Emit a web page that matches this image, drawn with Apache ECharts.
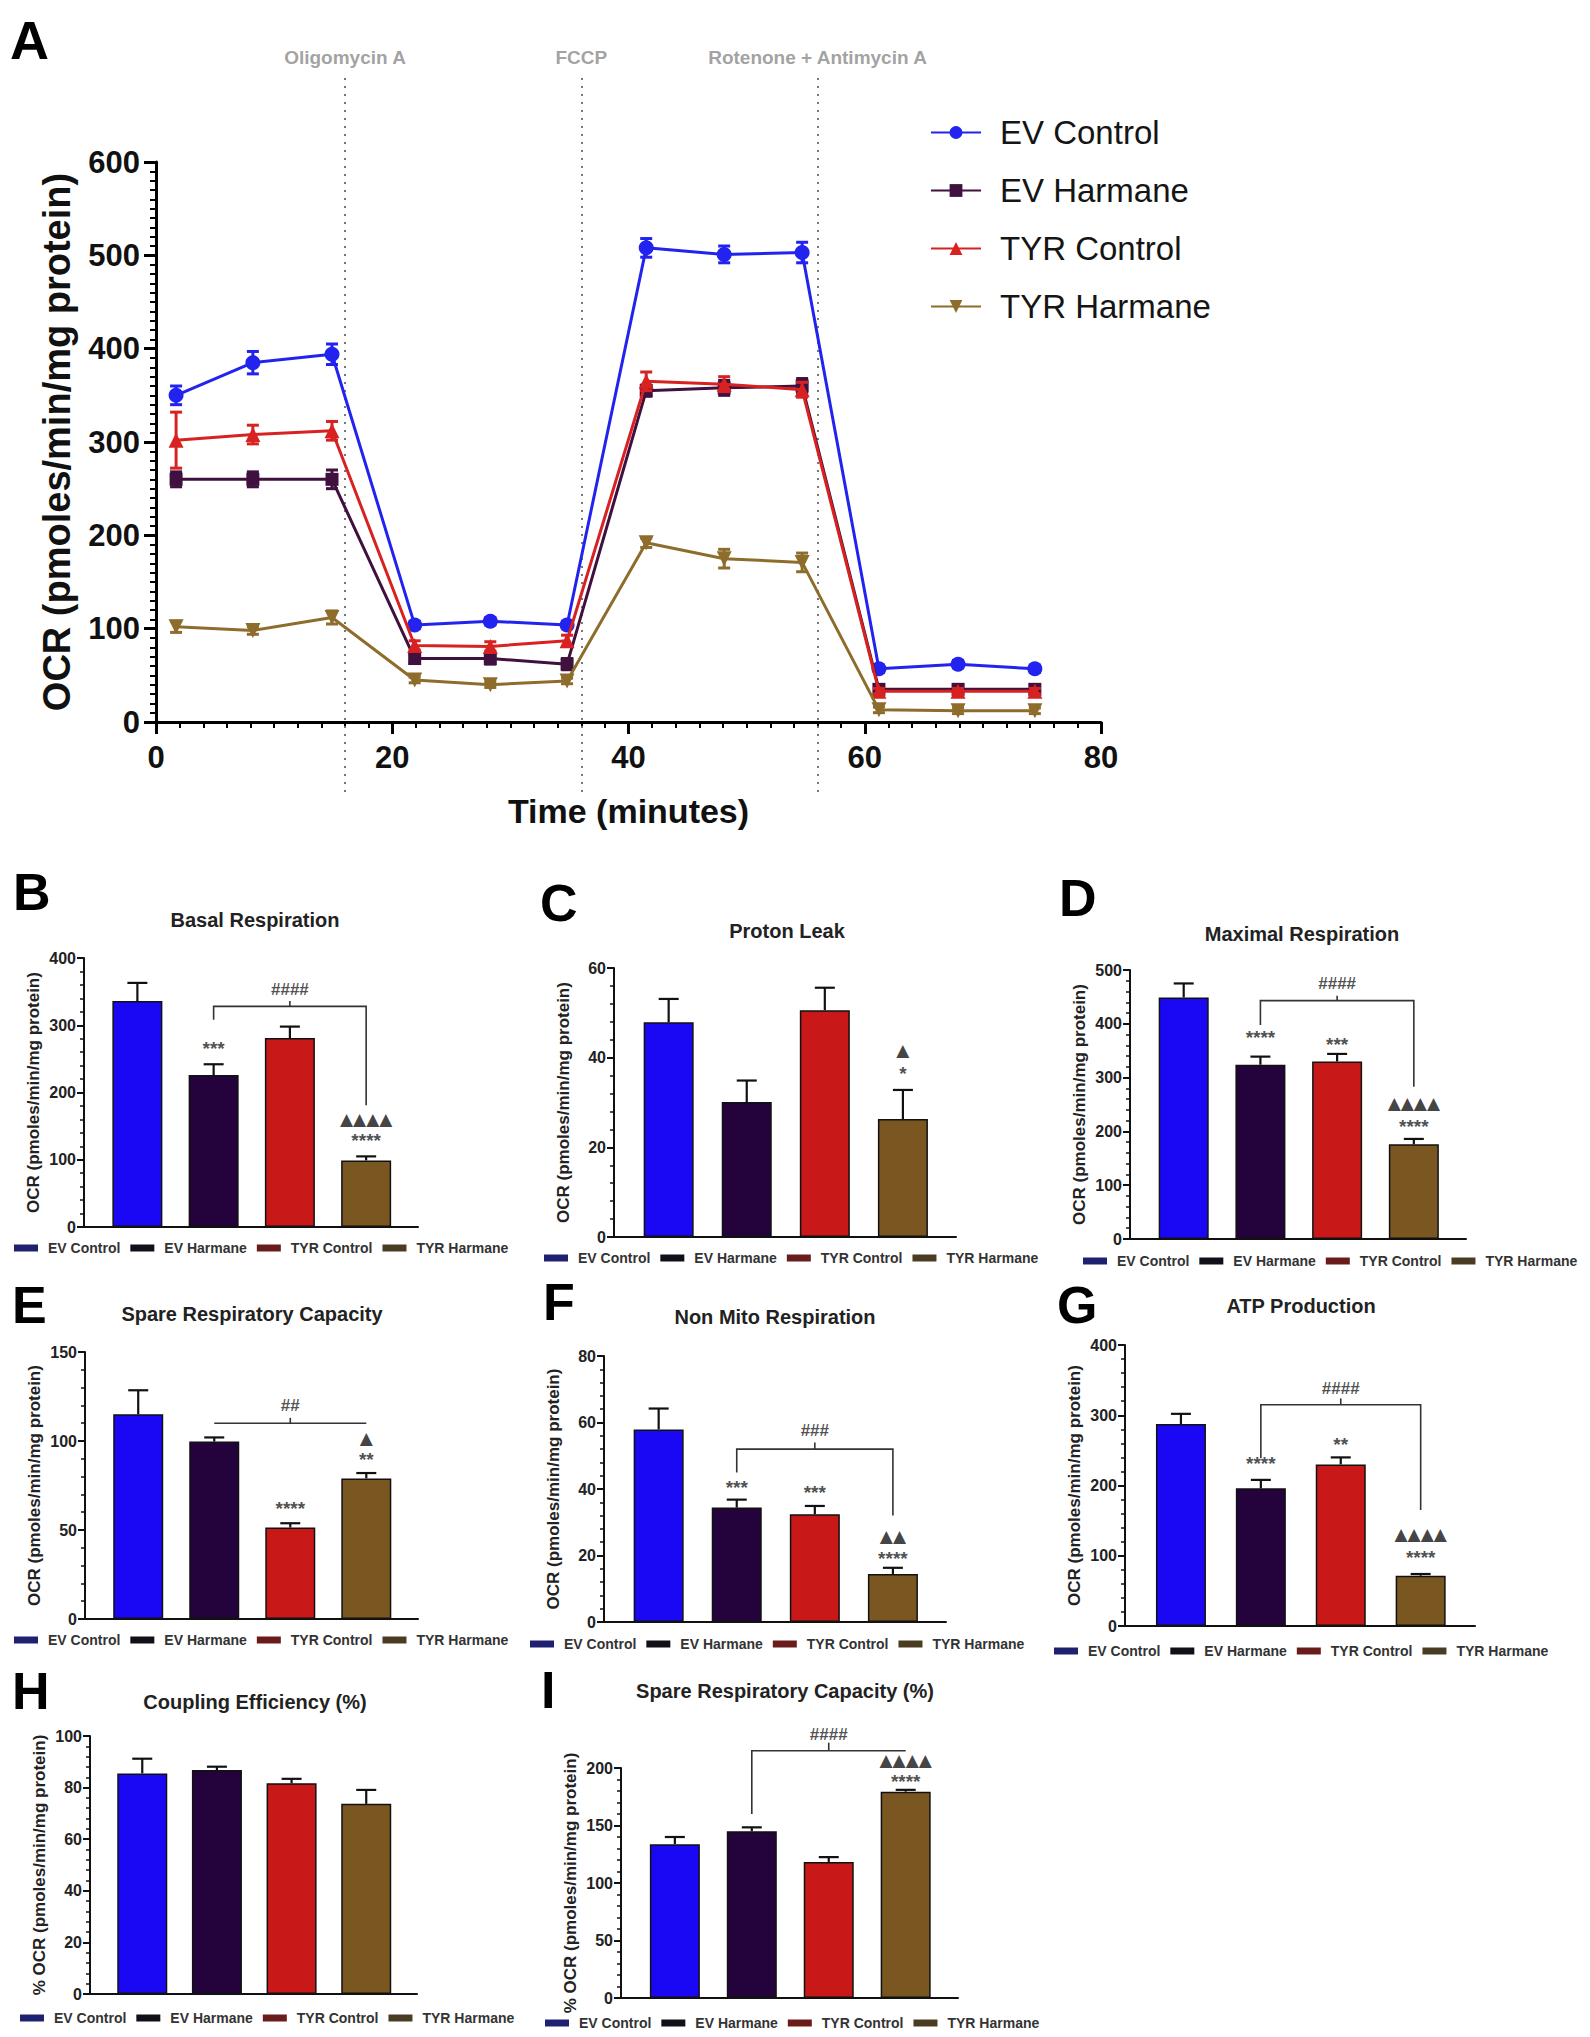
<!DOCTYPE html>
<html>
<head>
<meta charset="utf-8">
<script src="https://cdn.jsdelivr.net/npm/echarts@6/dist/echarts.min.js"></script>
<style>
html,body{margin:0;padding:0;background:#ffffff;}
#chart{width:1590px;height:2037px;}
</style>
</head>
<body>
<div id="chart"></div>
<script>
// ---------------- DATA ----------------
const categories = ['EV Control', 'EV Harmane', 'TYR Control', 'TYR Harmane'];

// Panel A: OCR time course
const timeMinutes = [1.7, 8.2, 14.9, 21.9, 28.3, 34.8, 41.5, 48.1, 54.7, 61.2, 67.9, 74.4];
const evControlOCR = [350, 385, 394, 104, 108, 104, 508, 501, 503, 57, 62, 57];
const evControlErr = [10, 12, 11, 4, 4, 4, 10, 9, 11, 4, 4, 4];
const evHarmaneOCR = [260, 260, 260, 68, 68, 62, 355, 358, 360, 35, 35, 35];
const evHarmaneErr = [8, 8, 10, 5, 6, 6, 6, 8, 8, 5, 5, 5];
const tyrControlOCR = [302, 308, 312, 82, 81, 87, 365, 362, 356, 33, 33, 33];
const tyrControlErr = [30, 10, 10, 5, 5, 6, 10, 8, 8, 3, 3, 3];
const tyrHarmaneOCR = [102, 98, 112, 45, 40, 44, 192, 175, 171, 13, 12, 12];
const tyrHarmaneErr = [6, 4, 7, 3, 3, 3, 5, 10, 10, 3, 3, 3];
const injectionTimes = [16, 36, 56];
const injectionNames = ['Oligomycin A', 'FCCP', 'Rotenone + Antimycin A'];
const xTicksA = [0, 20, 40, 60, 80];
const yTicksA = [0, 100, 200, 300, 400, 500, 600];

// Bar panels: means and SEM (upper)
const basalMean = [336, 226, 281, 99];
const basalErr = [27, 16, 17, 6];
const protonMean = [47.9, 30.1, 50.6, 26.3];
const protonErr = [5.2, 4.8, 5.0, 6.5];
const maximalMean = [449, 324, 330, 176];
const maximalErr = [26, 15, 14, 10];
const spareMean = [115, 99.7, 51.4, 79];
const spareErr = [13.5, 2.3, 2.4, 3];
const nonMitoMean = [57.9, 34.4, 32.4, 14.4];
const nonMitoErr = [6.3, 2.4, 2.5, 1.9];
const atpMean = [287.5, 196, 230, 71.6];
const atpErr = [14.5, 12, 10, 2.4];
const couplingMean = [85.5, 86.8, 81.7, 73.7];
const couplingErr = [5.7, 1.3, 1.7, 5.4];
const sparePctMean = [133.8, 145, 118.3, 179.4];
const sparePctErr = [6.2, 3.4, 4.2, 1.6];

// Significance annotations [category index, value, text]
const basalMarks = [[1, 266, '***'], [2, 353, '####'], [3, 161, '▲▲▲▲'], [3, 129, '****']];
const basalBracket = [[[1, 308], [1, 328], [3, 328], [3, 181]], [[2, 328], [2, 336]]];
const protonMarks = [[3, 41.6, '▲'], [3, 36.4, '*']];
const protonBracket = [];
const maximalMarks = [[1, 374, '****'], [2, 362, '***'], [2, 475, '####'], [3, 253, '▲▲▲▲'], [3, 209, '****']];
const maximalBracket = [[[1, 398], [1, 443], [3, 443], [3, 283]], [[2, 443], [2, 452]]];
const spareMarks = [[2, 62, '****'], [3, 89.5, '**'], [3, 101.5, '▲'], [2, 120, '##']];
const spareBracket = [[[1, 110], [3, 110]], [[2, 110], [2, 113]]];
const nonMitoMarks = [[1, 40.6, '***'], [2, 38.9, '***'], [2, 57.7, '###'], [3, 26, '▲▲'], [3, 19, '****']];
const nonMitoBracket = [[[1, 45], [1, 52], [3, 52], [3, 32]], [[2, 52], [2, 54]]];
const atpMarks = [[1, 231, '****'], [2, 259, '**'], [2, 338, '####'], [3, 131, '▲▲▲▲'], [3, 97, '****']];
const atpBracket = [[[1, 239], [1, 315], [3, 315], [3, 165]], [[2, 315], [2, 324]]];
const couplingMarks = [];
const couplingBracket = [];
const sparePctMarks = [[2, 229, '####'], [3, 207, '▲▲▲▲'], [3, 188, '****']];
const sparePctBracket = [[[1, 160], [1, 215], [3, 215]], [[2, 215], [2, 222]]];

// ---------------- STYLE / LAYOUT ----------------
const FONT = '"Liberation Sans", Arial, Helvetica, sans-serif';
const lineColors = ['#2323f0', '#40103f', '#d82222', '#8d6c2c'];
const barColors = ['#1a08f5', '#24023c', '#c91818', '#7a5620'];
const legendIconColors = ['#202070', '#101018', '#6a1c1c', '#4a3c22'];
const lineSymbols = ['circle', 'rect', 'triangle', 'triangle'];
const lineSymbolRotate = [0, 0, 0, 180];

const panels = [
  {letter: 'B', title: 'Basal Respiration', yName: 'OCR (pmoles/min/mg protein)', mean: basalMean, err: basalErr, marks: basalMarks, bracket: basalBracket, max: 400, interval: 100,
   g: {left: 84, width: 334, top: 958, height: 269}, L: [13, 892], T: [255, 920], leg: [14, 1241]},
  {letter: 'C', title: 'Proton Leak', yName: 'OCR (pmoles/min/mg protein)', mean: protonMean, err: protonErr, marks: protonMarks, bracket: protonBracket, max: 60, interval: 20,
   g: {left: 614, width: 342, top: 968, height: 269}, L: [540, 903], T: [787, 931], leg: [544, 1251]},
  {letter: 'D', title: 'Maximal Respiration', yName: 'OCR (pmoles/min/mg protein)', mean: maximalMean, err: maximalErr, marks: maximalMarks, bracket: maximalBracket, max: 500, interval: 100,
   g: {left: 1130, width: 336, top: 970, height: 269}, L: [1059, 898], T: [1302, 934], leg: [1083, 1254]},
  {letter: 'E', title: 'Spare Respiratory Capacity', yName: 'OCR (pmoles/min/mg protein)', mean: spareMean, err: spareErr, marks: spareMarks, bracket: spareBracket, max: 150, interval: 50,
   g: {left: 85, width: 333, top: 1352, height: 267}, L: [12, 1305], T: [252, 1314], leg: [14, 1633]},
  {letter: 'F', title: 'Non Mito Respiration', yName: 'OCR (pmoles/min/mg protein)', mean: nonMitoMean, err: nonMitoErr, marks: nonMitoMarks, bracket: nonMitoBracket, max: 80, interval: 20,
   g: {left: 604, width: 342, top: 1356, height: 266}, L: [543, 1302], T: [775, 1317], leg: [530, 1637]},
  {letter: 'G', title: 'ATP Production', yName: 'OCR (pmoles/min/mg protein)', mean: atpMean, err: atpErr, marks: atpMarks, bracket: atpBracket, max: 400, interval: 100,
   g: {left: 1125, width: 350, top: 1345, height: 281}, L: [1057, 1305], T: [1301, 1306], leg: [1054, 1644]},
  {letter: 'H', title: 'Coupling Efficiency (%)', yName: '% OCR (pmoles/min/mg protein)', mean: couplingMean, err: couplingErr, marks: couplingMarks, bracket: couplingBracket, max: 100, interval: 20,
   g: {left: 90, width: 327, top: 1736, height: 258}, L: [12, 1691], T: [255, 1702], leg: [20, 2011]},
  {letter: 'I', title: 'Spare Respiratory Capacity (%)', yName: '% OCR (pmoles/min/mg protein)', mean: sparePctMean, err: sparePctErr, marks: sparePctMarks, bracket: sparePctBracket, max: 200, interval: 50,
   g: {left: 621, width: 337, top: 1768, height: 230}, L: [541, 1690], T: [785, 1691], leg: [545, 2016]}
];

// ---------------- BUILD OPTION ----------------
const grids = [{left: 156, top: 162, width: 945, height: 560}];
const xAxes = [{
  gridIndex: 0, type: 'value', min: xTicksA[0], max: xTicksA[xTicksA.length - 1], interval: xTicksA[1] - xTicksA[0],
  axisLine: {onZero: false, lineStyle: {color: '#000', width: 3}},
  axisTick: {length: 12, lineStyle: {color: '#000', width: 3}},
  minorTick: {show: true, splitNumber: 10, length: 6, lineStyle: {color: '#000', width: 2}},
  splitLine: {show: false},
  axisLabel: {fontSize: 31, fontWeight: 'bold', color: '#111', margin: 20, fontFamily: FONT},
  name: 'Time (minutes)', nameLocation: 'middle', nameGap: 72,
  nameTextStyle: {fontSize: 34, fontWeight: 'bold', color: '#111', fontFamily: FONT}
}];
const yAxes = [{
  gridIndex: 0, type: 'value', min: yTicksA[0], max: yTicksA[yTicksA.length - 1], interval: yTicksA[1] - yTicksA[0],
  axisLine: {show: true, onZero: false, lineStyle: {color: '#000', width: 3}},
  axisTick: {show: true, length: 12, lineStyle: {color: '#000', width: 3}},
  minorTick: {show: true, splitNumber: 10, length: 6, lineStyle: {color: '#000', width: 2}},
  splitLine: {show: false},
  axisLabel: {fontSize: 31, fontWeight: 'bold', color: '#111', margin: 16, fontFamily: FONT},
  name: 'OCR (pmoles/min/mg protein)', nameLocation: 'middle', nameGap: 80,
  nameTextStyle: {fontSize: 38, fontWeight: 'bold', color: '#111', fontFamily: FONT}
}];
const series = [];
const legends = [];
const graphics = [];

// Panel A: injection dotted lines and labels
series.push({
  type: 'lines', coordinateSystem: 'cartesian2d', xAxisIndex: 0, yAxisIndex: 0, polyline: false, clip: false, silent: true,
  data: injectionTimes.map(t => ({coords: [[t, -75], [t, 690]]})),
  lineStyle: {color: '#777', width: 2, type: [2, 6], opacity: 1}, z: 1
});
series.push({
  type: 'scatter', xAxisIndex: 0, yAxisIndex: 0, clip: false, silent: true, symbolSize: 1,
  itemStyle: {color: 'transparent'},
  data: injectionTimes.map((t, i) => ({name: injectionNames[i], value: [t, 712]})),
  label: {show: true, position: 'inside', formatter: '{b}', fontSize: 19, fontWeight: 'bold', color: '#8a8a8a', fontFamily: FONT}
});

// Panel A: lines
const lineVals = [evControlOCR, evHarmaneOCR, tyrControlOCR, tyrHarmaneOCR];
const lineErrs = [evControlErr, evHarmaneErr, tyrControlErr, tyrHarmaneErr];
categories.forEach((c, k) => {
  series.push({
    type: 'line', name: c, xAxisIndex: 0, yAxisIndex: 0,
    data: timeMinutes.map((t, i) => [t, lineVals[k][i]]),
    symbol: lineSymbols[k], symbolRotate: lineSymbolRotate[k], symbolSize: k === 1 ? 13 : 15,
    lineStyle: {color: lineColors[k], width: 3}, itemStyle: {color: lineColors[k]},
    z: 3 + k
  });
  series.push({
    type: 'custom', xAxisIndex: 0, yAxisIndex: 0, silent: true, z: 3 + k,
    data: timeMinutes.map((t, i) => [t, lineVals[k][i], lineErrs[k][i]]),
    encode: {x: 0, y: 1},
    renderItem: (params, api) => {
      const x = api.value(0), y = api.value(1), e = api.value(2);
      const p1 = api.coord([x, y + e]), p2 = api.coord([x, y - e]);
      const st = {stroke: lineColors[k], lineWidth: 3};
      return {type: 'group', children: [
        {type: 'line', shape: {x1: p1[0], y1: p1[1], x2: p2[0], y2: p2[1]}, style: st},
        {type: 'line', shape: {x1: p1[0] - 6, y1: p1[1], x2: p1[0] + 6, y2: p1[1]}, style: st},
        {type: 'line', shape: {x1: p2[0] - 6, y1: p2[1], x2: p2[0] + 6, y2: p2[1]}, style: st}
      ]};
    }
  });
});
legends.push({
  data: categories.slice(), orient: 'vertical', left: 925, top: 111,
  itemWidth: 50, itemHeight: 16, itemGap: 25, selectedMode: false,
  textStyle: {fontSize: 33, color: '#151515', fontFamily: FONT, padding: [0, 0, 0, 14]}
});
graphics.push({type: 'text', x: 10, y: 40, style: {text: 'A', font: 'bold 54px ' + FONT, fill: '#000', verticalAlign: 'middle'}});

// Bar panels
panels.forEach((p, idx) => {
  const gi = idx + 1;
  grids.push(p.g);
  xAxes.push({
    gridIndex: gi, type: 'value', min: -0.7, max: 3.68,
    axisLine: {onZero: false, lineStyle: {color: '#111', width: 2}},
    axisTick: {show: false}, axisLabel: {show: false}, splitLine: {show: false}
  });
  yAxes.push({
    gridIndex: gi, type: 'value', min: 0, max: p.max, interval: p.interval,
    axisLine: {show: true, onZero: false, lineStyle: {color: '#111', width: 2}},
    axisTick: {show: true, length: 7, lineStyle: {color: '#111', width: 2}},
    minorTick: {show: true, splitNumber: 5, length: 4, lineStyle: {color: '#111', width: 1.5}},
    splitLine: {show: false},
    axisLabel: {fontSize: 16, fontWeight: 'bold', color: '#222', margin: 8, fontFamily: FONT},
    name: p.yName, nameLocation: 'middle', nameGap: 42,
    nameTextStyle: {fontSize: 17, fontWeight: 'bold', color: '#222', fontFamily: FONT}
  });
  categories.forEach((c, k) => {
    series.push({
      type: 'bar', name: 'bar|' + c, xAxisIndex: gi, yAxisIndex: gi,
      barWidth: 50, barGap: '-100%', silent: true,
      data: [[k, p.mean[k]]],
      itemStyle: {color: barColors[k], borderColor: '#111', borderWidth: 1.5}, z: 2
    });
  });
  series.push({
    type: 'custom', xAxisIndex: gi, yAxisIndex: gi, silent: true, z: 4,
    data: p.mean.map((m, k) => [k, m, p.err[k]]),
    encode: {x: 0, y: 1},
    renderItem: (params, api) => {
      const x = api.value(0), y = api.value(1), e = api.value(2);
      const top = api.coord([x, y + e]), bot = api.coord([x, y]);
      const st = {stroke: '#111', lineWidth: 2.2};
      return {type: 'group', children: [
        {type: 'line', shape: {x1: top[0], y1: top[1], x2: bot[0], y2: bot[1]}, style: st},
        {type: 'line', shape: {x1: top[0] - 10, y1: top[1], x2: top[0] + 10, y2: top[1]}, style: st}
      ]};
    }
  });
  if (p.bracket.length) {
    series.push({
      type: 'lines', coordinateSystem: 'cartesian2d', xAxisIndex: gi, yAxisIndex: gi, polyline: true, clip: false, silent: true,
      data: p.bracket.map(c => ({coords: c})),
      lineStyle: {color: '#333', width: 1.6, opacity: 1}, z: 5
    });
  }
  if (p.marks.length) {
    series.push({
      type: 'scatter', xAxisIndex: gi, yAxisIndex: gi, clip: false, silent: true, symbolSize: 1,
      itemStyle: {color: 'transparent'}, z: 6,
      data: p.marks.map(m => {
        const t = m[2];
        const tri = t.indexOf('▲') >= 0, hash = t.indexOf('#') >= 0;
        return {name: t, value: [m[0], m[1]],
          label: tri ? {fontSize: 17, fontFamily: '"DejaVu Sans", sans-serif', color: '#111'} : (hash ? {fontSize: 17} : {fontSize: 19})};
      }),
      label: {show: true, position: 'inside', formatter: '{b}', color: '#222', fontWeight: 'bold', fontFamily: FONT, fontSize: 17}
    });
  }
  legends.push({
    data: categories.map((c, k) => ({name: 'bar|' + c, itemStyle: {color: legendIconColors[k], borderColor: legendIconColors[k], borderWidth: 0}})),
    icon: 'rect', left: p.leg[0], top: p.leg[1], padding: 0, itemWidth: 24, itemHeight: 7, itemGap: 10, selectedMode: false,
    formatter: n => n.slice(4),
    textStyle: {fontSize: 14, fontWeight: 'bold', color: '#333', fontFamily: FONT, padding: [0, 0, 0, 5]}
  });
  graphics.push({type: 'text', x: p.L[0], y: p.L[1], style: {text: p.letter, font: 'bold 52px ' + FONT, fill: '#000', verticalAlign: 'middle'}});
  graphics.push({type: 'text', x: p.T[0], y: p.T[1], style: {text: p.title, font: 'bold 20px ' + FONT, fill: '#222', align: 'center', verticalAlign: 'middle'}});
});

const option = {
  animation: false,
  backgroundColor: '#ffffff',
  textStyle: {fontFamily: FONT},
  grid: grids,
  xAxis: xAxes,
  yAxis: yAxes,
  legend: legends,
  graphic: graphics,
  series: series
};

const chart = echarts.init(document.getElementById('chart'), null, {renderer: 'svg', width: 1590, height: 2037});
chart.setOption(option);
</script>
</body>
</html>
